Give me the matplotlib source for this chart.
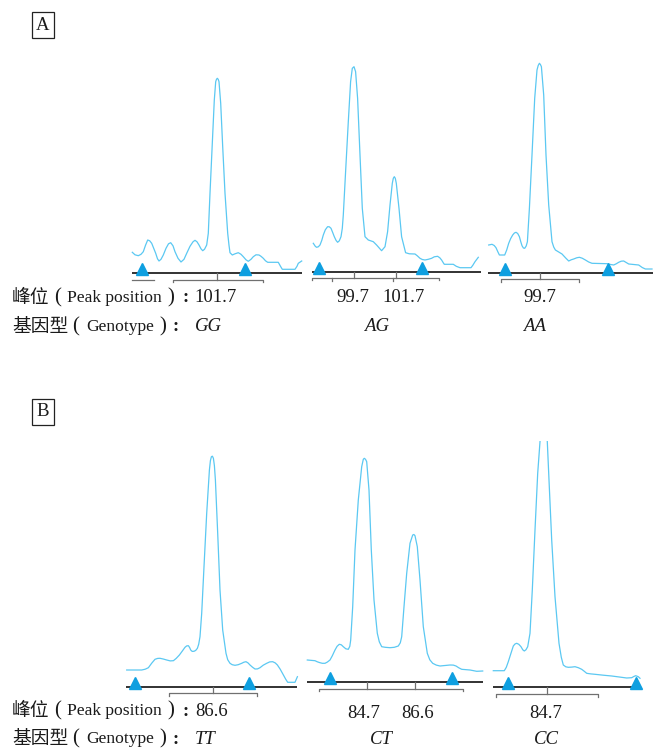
import numpy as np
import matplotlib.pyplot as plt

plt.rcParams['font.family'] = ['Liberation Serif', 'Noto Sans CJK SC']

W, H = 653, 750
trace_color = '#5bc8f2'
marker_color = '#0e9fe0'
axis_color = '#222222'
bin_color = '#707070'

# ---- panel A (peak position 99.7 / 101.7) ----
# GG
gg_scan = [0.3, 3, 6.3, 9, 11.3, 13.5, 15.7, 17.7, 19.7, 21.7, 23.7, 25.5, 27, 29, 31.3, 34, 36.5,
           38.7, 41, 43, 46, 49, 52, 54.7, 58, 61, 63, 65, 67, 69, 70.7, 72.5, 74.7, 76.3, 78,
           80.3, 82.3, 83.7, 84.5, 85.3, 86.2, 87, 88.7, 90.7, 93, 95.7, 97, 98, 100.3, 103,
           106.3, 109, 111.3, 114, 116.3, 119, 121.3, 124, 127, 129, 131.3, 133.5, 135.7, 146.3,
           148.5, 150.3, 163, 165, 166.3, 169.7]
gg_signal = [21, 18.5, 17.6, 19, 21.6, 28, 33.3, 32.5, 30, 25, 20, 14.5, 12.3, 14, 18.3, 25, 29.5,
             30.6, 27.5, 21.6, 15, 11.3, 14, 20, 27, 31.5, 33, 31.5, 28.3, 24.5, 22.6, 24, 28.3,
             40, 80, 130, 173.3, 191.6, 194, 195, 194, 191.6, 170, 126.6, 80, 40, 28, 20.6, 18.3,
             19.5, 20.6, 19, 16.6, 13.5, 12, 14, 16.6, 18.5, 18.3, 17, 15, 12.5, 11, 11, 7, 4, 4,
             7, 10, 12.3]
gg_std = [10, 113]
gg_bin = [41, 131]
gg_bin_peaks = [85.3]

# AG
ag_scan = [0, 2, 3.3, 5, 6.7, 8.5, 10, 12, 14.3, 16, 17.7, 19.5, 21, 22.7, 24.3, 26, 27.7, 29, 30,
           32.3, 35, 37.3, 39, 40.7, 42.3, 44.3, 46.7, 49, 51.7, 55, 60, 63.3, 68.3, 71.7, 74.3,
           76.7, 79, 80, 81, 82, 83, 85.7, 88.3, 92.3, 96, 101.7, 104, 106.7, 109, 111.7, 115,
           118.3, 121, 124.3, 126.5, 128.3, 130, 131, 140, 143, 146.7, 157.7, 159.5, 161.7, 165]
ag_signal = [29, 26, 25, 25.5, 27.3, 32, 37.3, 42.5, 45.6, 45.5, 44, 39.5, 35.6, 32, 30, 31.5,
             35.6, 44, 57.3, 100.6, 150.6, 190.6, 204, 205.6, 200.6, 174, 117.3, 64, 35.6, 32.3,
             30.6, 27.3, 21.6, 25.6, 40.6, 67.3, 89, 94, 95.6, 94, 89, 64, 35.6, 19.6, 18.5,
             18.3, 16.5, 14, 12.8, 12.3, 13, 14, 15.5, 16, 14.5, 12.3, 9.5, 8, 8, 6, 4.6, 4.6, 7,
             10.6, 15]
ag_std = [5.7, 108.4]
ag_bin = [-1, 126]
ag_bin_peaks = [41, 82.4]
ag_bin_minor = [19, 79.4]

# AA
aa_scan = [0, 3.3, 5.5, 7.3, 9, 10.7, 16, 18, 20, 22, 24, 25.7, 27.3, 29, 30.7, 32, 33.3, 34.7, 36,
           37.5, 38.7, 40.7, 43.3, 46, 48.3, 49.5, 50.7, 51.7, 52.7, 55, 57.3, 60, 63.3, 65, 66.7,
           70, 73.3, 77, 80, 82.5, 85, 88, 90.7, 93.5, 96.7, 100, 103.3, 118.3, 122, 125, 127.5,
           130, 132.5, 135, 137.5, 140, 150, 153.5, 156.7, 163.3]
aa_signal = [28, 28.7, 27.5, 25.3, 21.5, 18, 18, 23, 29.7, 34.5, 38, 40, 40.7, 39.5, 36.3, 31.5,
             27.3, 25, 24.7, 27, 31.3, 64.7, 118, 174.7, 203, 207.5, 209.7, 208.5, 206.3, 178,
             118, 68, 31.3, 26, 23, 21, 19, 15, 12, 13.2, 14, 15.2, 15.7, 14.8, 13, 11, 9.7, 9.3,
             8.5, 8, 9.2, 10.7, 11.8, 12, 10.5, 9, 8, 5.5, 4, 4]
aa_std = [16, 119]
aa_bin = [12.3, 90.7]
aa_bin_peaks = [51]

# ---- panel B (peak position 84.7 / 86.6) ----
# TT
tt_scan = [0, 15, 18.5, 21.7, 25, 28.3, 31, 33.3, 36.5, 40, 43.5, 46.7, 49.5, 52.7, 55.5, 58.3, 60,
           61.7, 63, 64, 65.5, 67.3, 69, 70.7, 72, 73.3, 75, 77.3, 80, 82.7, 83.7, 84.7, 85.7,
           86.7, 87.7, 88.7, 91, 93.3, 96, 99.3, 101, 103.3, 105.5, 108.3, 111.5, 115, 117.2,
           119.3, 121.3, 123.3, 125.8, 128.3, 130.8, 133.3, 136.5, 140, 143, 146, 148.5, 150.7,
           153.5, 156.7, 159, 161, 168.3, 170.7]
tt_signal = [16.7, 16.7, 17.5, 19, 23.5, 27.4, 28.3, 28.4, 27.7, 26.7, 25.8, 26, 28.3, 31.7, 35.5,
             39.4, 40.8, 41, 39, 36.7, 35.3, 35.4, 36.3, 38.4, 42.5, 50, 73.4, 120, 173.4, 216.7,
             226, 230, 230.5, 228.4, 221, 206.7, 153.4, 96.7, 56.7, 33.4, 27, 23.4, 22, 21.4, 22,
             23.4, 24.5, 25, 23.8, 21.7, 19.5, 17.7, 17.8, 19, 21.5, 23.4, 24.8, 25, 23.8, 21.7,
             17.5, 11.7, 7.5, 4.4, 4.4, 10]
tt_std = [8.3, 122.3]
tt_bin = [42.7, 130.7]
tt_bin_peaks = [86.7]

# CT
ct_scan = [0, 7.7, 10, 12.7, 15, 17.7, 20, 22.7, 25, 27.7, 29.8, 32, 34, 36, 38.5, 41, 42.5, 43.4,
           45.4, 47.7, 51, 54.4, 56, 57, 58.2, 59.4, 61.7, 64, 66.7, 70, 72, 74.4, 78, 82.7, 87,
           91, 93, 94.4, 96.7, 99.4, 102.7, 105.4, 106.6, 107.7, 110, 112.7, 116, 120, 122.5,
           125.4, 129, 132.7, 137.7, 142.7, 146, 148.7, 151.5, 154.4, 162.7, 169.4, 175.4]
ct_signal = [22.3, 21.6, 20.5, 19.6, 19, 19, 20.2, 22.3, 26.5, 32.3, 36, 38, 37.5, 35.6, 33.5, 33,
             36, 42.3, 75.6, 132.3, 182.3, 215.6, 223, 224, 223, 220.6, 192.3, 132.3, 82.3, 49,
             40.5, 35.6, 35, 34.6, 35, 36.3, 39.5, 45.6, 75.6, 109, 139, 147.3, 147.8, 146.6,
             135.6, 102.3, 55.6, 29, 22.5, 19, 17.2, 16.3, 16.8, 17.3, 17.2, 16.3, 14.5, 13, 12.3,
             11, 11.3]
ct_std = [22.7, 145]
ct_bin = [12, 156]
ct_bin_peaks = [59.4, 107.7]

# CC (main peak runs off the top of the panel)
cc_scan = [0, 11, 13, 15, 17.5, 20, 21.7, 23.4, 25.5, 27.7, 29.5, 31, 32.7, 34.4, 36.7, 39, 41.7,
           44.4, 46.7, 50.4, 54, 55.7, 58.4, 61.7, 65.7, 68, 70, 72.5, 75, 78.5, 81.7, 85, 88.4,
           91, 93.4, 97.5, 101.7, 110, 118.4, 126, 133.4, 138.4, 140.5, 142.4, 145, 146.7]
cc_signal = [16.6, 16.6, 20, 25.6, 33.5, 41.3, 43.3, 44, 43, 40.6, 37.5, 36.3, 37.6, 40.6, 54,
             97.3, 157.3, 214, 245.6, 290, 245.6, 207.3, 147.3, 90.6, 44, 30, 22.3, 20.5, 20,
             20.2, 20.6, 19.6, 18, 16, 14, 13.4, 13, 12.1, 11.3, 10.3, 9.3, 9.6, 10.8, 11.6,
             10.6, 9]
cc_std = [14.4, 142.4]
cc_bin = [2.4, 104.4]
cc_bin_peaks = [53.4]

fig = plt.figure(figsize=(W / 100, H / 100), dpi=100)


# one axes per electropherogram, 1 data unit = 1 pixel
def draw_trace(x0, base, span, top, scan, signal, std, bin_lr, bin_peaks, bin_minor=(),
               base_lr=None, bin_y=-6.5):
    ax = fig.add_axes([(x0 - 6) / W, 1 - (base + 14) / H, (span + 12) / W, (top + 14) / H])
    ax.set_xlim(-6, span + 6)
    ax.set_ylim(-14, top)
    ax.axis('off')
    if base_lr is None:
        base_lr = (0, span)
    ax.plot(scan, signal, color=trace_color, lw=0.9, solid_joinstyle='round')
    ax.plot(base_lr, [0, 0], color=axis_color, lw=1.3, solid_capstyle='butt')
    ax.plot(std, [4.2] * len(std), ls='none', marker='^', ms=8.5, color=marker_color, clip_on=False)
    # size bin bracket
    ax.plot([bin_lr[0], bin_lr[0], bin_lr[1], bin_lr[1]], [bin_y - 2.5, bin_y, bin_y, bin_y - 2.5],
            color=bin_color, lw=0.9)
    for p in bin_peaks:
        ax.plot([p, p], [0, bin_y], color=bin_color, lw=0.9)
    for p in bin_minor:
        ax.plot([p, p], [bin_y, bin_y - 3], color=bin_color, lw=0.9)
    return ax


ax_gg = draw_trace(132, 273.3, 170, 205, gg_scan, gg_signal, gg_std, gg_bin, gg_bin_peaks)
ax_gg.plot([0, 22], [-6.7, -6.7], color=bin_color, lw=0.9)
draw_trace(313.3, 272.3, 166, 215, ag_scan, ag_signal, ag_std, ag_bin, ag_bin_peaks,
           bin_minor=ag_bin_minor, base_lr=(-1.3, 167.7), bin_y=-5.4)
draw_trace(488.7, 273, 164, 218, aa_scan, aa_signal, aa_std, aa_bin, aa_bin_peaks,
           base_lr=(-0.7, 164), bin_y=-6)

draw_trace(126.7, 686.7, 170, 240, tt_scan, tt_signal, tt_std, tt_bin, tt_bin_peaks,
           base_lr=(-0.7, 170))
draw_trace(307.3, 682.3, 175.4, 235, ct_scan, ct_signal, ct_std, ct_bin, ct_bin_peaks,
           bin_y=-6.4)
draw_trace(493.3, 687.3, 146.7, 246, cc_scan, cc_signal, cc_std, cc_bin, cc_bin_peaks,
           bin_y=-6.7)


def ftext(x, y, s, size=13.5, **kw):
    fig.text(x / W, 1 - y / H, s, va='center', fontsize=size, color='#1a1a1a', **kw)


# row label: chinese head, bracketed english, colon, each piece placed on its own
def label_row(y, head, eng, paren_x, eng_x, close_x, colon_x):
    ftext(12, y, head)
    ftext(paren_x, y, '(', size=15)
    ftext(eng_x, y, eng, size=12.6)
    ftext(close_x, y, ')', size=15)
    ftext(colon_x, y, ':', weight='bold')


box = dict(boxstyle='square,pad=0.25', fc='white', ec='#222222', lw=0.9)
ftext(43, 25, 'A', ha='center', bbox=box)
ftext(43, 412, 'B', ha='center', bbox=box)

# labels, panel A
label_row(298, '峰位', 'Peak position', 54, 67, 167, 182)
label_row(327, '基因型', 'Genotype', 72, 86, 159, 172)
ftext(194, 298, '101.7')
ftext(195, 327, 'GG', style='italic')
ftext(353, 298, '99.7', ha='center')
ftext(404, 298, '101.7', ha='center')
ftext(377, 327, 'AG', ha='center', style='italic')
ftext(540, 298, '99.7', ha='center')
ftext(535, 327, 'AA', ha='center', style='italic')

# labels, panel B
label_row(711, '峰位', 'Peak position', 54, 67, 167, 182)
label_row(739, '基因型', 'Genotype', 72, 86, 159, 172)
ftext(195, 712, '86.6')
ftext(195, 739, 'TT', style='italic')
ftext(364, 713, '84.7', ha='center')
ftext(418, 713, '86.6', ha='center')
ftext(381, 740, 'CT', ha='center', style='italic')
ftext(546, 713, '84.7', ha='center')
ftext(546, 740, 'CC', ha='center', style='italic')

fig.savefig('out.png', dpi=100)
